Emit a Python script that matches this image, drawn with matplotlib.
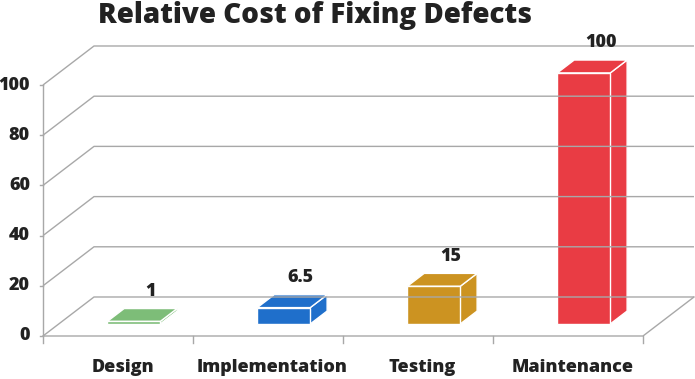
import numpy as np
import matplotlib.pyplot as plt
from matplotlib.patches import Polygon

categories = ["Design", "Implementation", "Testing", "Maintenance"]
values = [1, 6.5, 15, 100]
value_labels = ["1", "6.5", "15", "100"]
colors = ["#7dbd78", "#1f6fcb", "#cc9321", "#e93c44"]
yticks = [0, 20, 40, 60, 80, 100]

FONT = "Open Sans"
GRID = "#a8a8a8"
TEXT = "#222222"

# fake 3d: depth d in [0, 1] shifts points right and up
DX = 0.34      # category units at full depth
DY = 15.54     # value units at full depth
BAR_W = 0.353
D0, D1 = 0.31, 0.64


def proj(x, v, d):
    return x + d * DX, v + d * DY


fig = plt.figure(figsize=(6.95, 3.79), dpi=100)
ax = fig.add_axes([0, 0, 1, 1])
ax.set_xlim(-43 / 150, (695 - 43) / 150)
ax.set_ylim(-43 / 2.51, 336 / 2.51)
ax.axis("off")

n = len(categories)

# walls / gridlines
for t in yticks:
    x0, y0 = proj(0, t, 0)
    x1, y1 = proj(0, t, 1)
    x2, y2 = proj(n, t, 1)
    ax.plot([x0, x1, x2], [y0, y1, y2], color=GRID, lw=1, solid_capstyle="butt")
    ax.plot([-0.02, 0], [t, t], color=GRID, lw=1)
    ax.text(-0.087, t, str(t), ha="right", va="center", fontsize=13,
            fontweight="heavy", color=TEXT, family=FONT)

ax.plot([0, 0], [-2.8, yticks[-1]], color=GRID, lw=1)
fx, fy = proj(n, 0, 1)
ax.plot([0, n, fx], [0, 0, fy], color=GRID, lw=1)
for i in range(1, n + 1):
    ax.plot([i, i], [0, -2.8], color=GRID, lw=1)

# bars
for i, (v, c, lab) in enumerate(zip(values, colors, value_labels)):
    xl = i + 0.5 - BAR_W / 2
    xr = xl + BAR_W
    front = [proj(xl, 0, D0), proj(xr, 0, D0), proj(xr, v, D0), proj(xl, v, D0)]
    side = [proj(xr, 0, D0), proj(xr, 0, D1), proj(xr, v, D1), proj(xr, v, D0)]
    top = [proj(xl, v, D0), proj(xr, v, D0), proj(xr, v, D1), proj(xl, v, D1)]
    for pts in (side, top, front):
        ax.add_patch(Polygon(pts, closed=True, facecolor=c, edgecolor="white",
                             lw=1, joinstyle="miter"))
    lx, ly = proj(i + 0.5, v, D1)
    ax.text(lx, ly + 6.8, lab, ha="center", va="center", fontsize=13,
            fontweight="heavy", color=TEXT, family=FONT)

# category labels
for i, cat in enumerate(categories):
    ax.text(i + 0.53, -12.7, cat, ha="center", va="center", fontsize=13,
            fontweight="heavy", color=TEXT, family=FONT)

fig.text(0.453, 0.958, "Relative Cost of Fixing Defects", ha="center", va="center",
         fontsize=20, fontweight="heavy", color=TEXT, family=FONT)

fig.savefig("out.png", dpi=100)
